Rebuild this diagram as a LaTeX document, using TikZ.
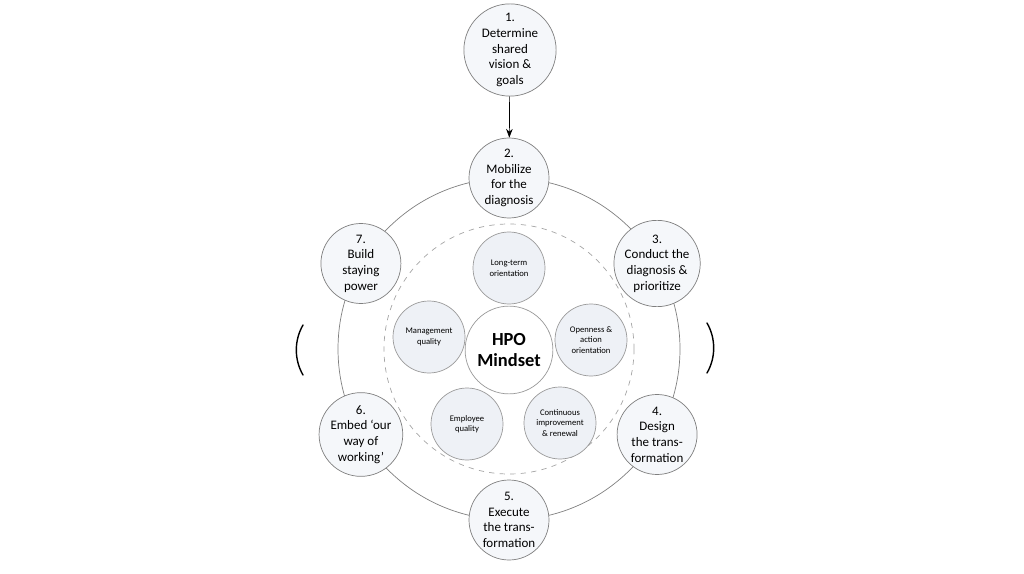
\documentclass[tikz,border=0pt]{standalone}
\usepackage{fontspec}
\setmainfont{Carlito}
\usetikzlibrary{arrows.meta,calc}
\definecolor{ringgray}{HTML}{7F7F7F}
\definecolor{cellfill}{HTML}{EEF1F6}
\begin{document}
\begin{tikzpicture}[x=0.02cm,y=-0.02cm,
		stage/.style={circle,draw=ringgray,fill=cellfill!60,minimum size=80*0.02cm,inner sep=0pt,align=center,font=\fontsize{7.4}{8.9}\selectfont},
		factor/.style={circle,draw=ringgray!80,fill=cellfill,minimum size=72*0.02cm,inner sep=0pt,align=center,font=\fontsize{4.9}{6}\selectfont},
		swing/.style={thick,line cap=round}]
	\useasboundingbox (0,0) rectangle (1024,574);

	% rings
	\coordinate (hub) at (509,349);
	\draw[ringgray] (hub) circle (171*0.02cm);
	\draw[ringgray!70,dashed] (hub) circle (125*0.02cm);

	% stages of the cycle
	\node[stage] (s1) at (510,50) {1.\\Determine\\shared\\vision \&\\goals};
	\node[stage] (s2) at ($(hub)+(90:171*0.02cm)$) {2.\\Mobilize\\for the\\diagnosis};
	\node[stage] (s3) at ($(hub)+(30:171*0.02cm)$) {3.\\Conduct the\\diagnosis \&\\prioritize};
	\node[stage] (s4) at ($(hub)+(-30:171*0.02cm)$) {4.\\Design\\the trans-\\formation};
	\node[stage] (s5) at ($(hub)+(-90:171*0.02cm)$) {5.\\Execute\\the trans-\\formation};
	\node[stage] (s6) at ($(hub)+(210:171*0.02cm)$) {6.\\Embed `our\\way of\\working'};
	\node[stage] (s7) at ($(hub)+(150:171*0.02cm)$) {7.\\Build\\staying\\power};
	\draw[-{Stealth[length=5pt]}] (s1) -- (s2);

	% HPO factors
	\node[circle,draw=ringgray!80,fill=white,minimum size=84*0.02cm,align=center,
		font=\fontsize{10.5}{12.5}\selectfont\bfseries] (hpo) at (509,350) {HPO\\Mindset};
	\node[factor] (long) at (509,268) {Long-term\\orientation};
	\node[factor] (mgmt) at (429,337) {Management\\quality};
	\node[factor] (open) at (591,340) {Openness \&\\action\\orientation};
	\node[factor] (empl) at (467,424) {Employee\\quality};
	\node[factor] (cont) at (560,423) {Continuous\\improvement\\\& renewal};

	% swing marks
	\draw[swing] (303,325) arc[start angle=150,end angle=210,radius=50*0.02cm];
	\draw[swing] (707,323) arc[start angle=30,end angle=-30,radius=50*0.02cm];
\end{tikzpicture}
\end{document}
